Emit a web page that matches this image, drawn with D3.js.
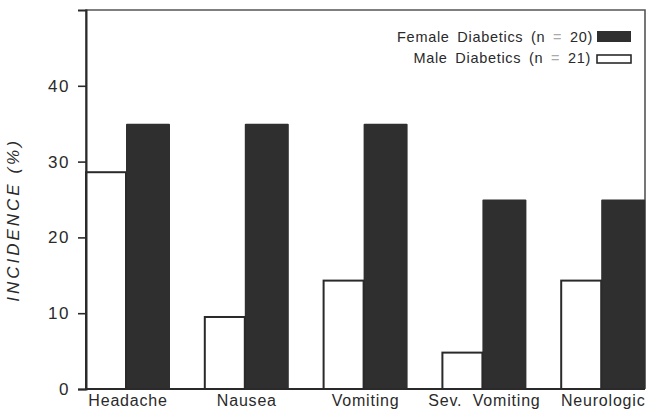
<!DOCTYPE html>
<html><head><meta charset="utf-8">
<script src="https://cdn.jsdelivr.net/npm/d3@7"></script>
<style>
html,body{margin:0;padding:0;background:#fff;}
svg{display:block;}
text{font-family:"Liberation Sans",Arial,Helvetica,sans-serif;fill:#2a2a2a;}
</style></head>
<body>
<svg id="chart" width="646" height="410"></svg>
<script>
const categories = ["Headache", "Nausea", "Vomiting", "Sev.  Vomiting", "Neurologic"];
const femaleValues = [35, 35, 35, 25, 25];
const maleValues = [28.6, 9.5, 14.3, 4.8, 14.3];
const yTickValues = [0, 10, 20, 30, 40];
const seriesKeys = ["male", "female"];
const legendLabels = [["Female Diabetics (n", "=", "20)"], ["Male Diabetics (n", "=", "21)"]];
const yTitle = "INCIDENCE (%)";

const svg = d3.select("#chart");
const ink = "#2a2a2a";
const mLeft = 86, mRight = 645, mTop = 10, mBottom = 389;

const y = d3.scaleLinear().domain([0, 50]).range([mBottom, mTop]);
const x0 = d3.scaleBand().domain(categories).range([mLeft, mLeft + 5 * 118.8]).padding(0);
const x1 = d3.scaleBand().domain(seriesKeys).range([0, 84]).padding(0);

// frame
svg.append("path")
  .attr("d", `M${mLeft},${mBottom}V${mTop}H${mRight}V${mBottom}`)
  .attr("fill", "none").attr("stroke", "#555").attr("stroke-width", 1.6);

// bars
const data = categories.map((c, i) => ({c, male: maleValues[i], female: femaleValues[i]}));
const g = svg.append("g");
g.selectAll("rect.f").data(data).join("rect").attr("class", "f")
  .attr("x", d => x0(d.c) + x1("female") - 2)
  .attr("width", x1.bandwidth() + 2)
  .attr("y", d => y(d.female))
  .attr("height", d => y(0) - y(d.female))
  .attr("fill", "#2f2f2f").attr("rx", 1);
g.selectAll("rect.m").data(data).join("rect").attr("class", "m")
  .attr("x", d => x0(d.c) + x1("male"))
  .attr("width", x1.bandwidth() - 2)
  .attr("y", d => y(d.male))
  .attr("height", d => y(0) - y(d.male))
  .attr("fill", "#fff").attr("stroke", ink).attr("stroke-width", 2);

// x baseline
svg.append("line").attr("x1", mLeft).attr("x2", mRight).attr("y1", mBottom).attr("y2", mBottom)
  .attr("stroke", ink).attr("stroke-width", 2);

// y axis
const yAxis = d3.axisLeft(y).tickValues(yTickValues).tickSize(8).tickPadding(8).tickFormat(d3.format("d"));
const ya = svg.append("g").attr("transform", `translate(${mLeft},0)`).call(yAxis);
ya.select(".domain").attr("stroke", ink).attr("stroke-width", 2);
ya.selectAll(".tick line").attr("stroke", ink).attr("stroke-width", 1.6);
ya.selectAll(".tick text").attr("font-size", 17).attr("letter-spacing", 1.5)
  .attr("font-family", "Liberation Sans, Arial, sans-serif").attr("fill", ink);

// x labels
const xAxis = d3.axisBottom(x0).tickSize(0).tickPadding(6);
const xa = svg.append("g").attr("transform", `translate(0,${mBottom})`).call(xAxis);
xa.select(".domain").remove();
xa.selectAll(".tick").attr("transform", d => `translate(${x0(d) + 42},0)`);
xa.selectAll(".tick text").attr("font-size", 16).attr("letter-spacing", 0.8)
  .attr("font-family", "Liberation Sans, Arial, sans-serif").attr("fill", ink)
  .style("white-space", "pre");

// y title
svg.append("text")
  .attr("transform", "translate(19,220) rotate(-90)")
  .attr("text-anchor", "middle")
  .attr("font-size", 17).attr("font-style", "italic").attr("letter-spacing", 3)
  .text(yTitle);

// legend
const legend = svg.append("g");
const lg = legend.selectAll("g").data(legendLabels).join("g")
  .attr("transform", (d, i) => `translate(0,${[42, 63][i]})`);
const lt = lg.append("text").attr("x", (d, i) => [593, 591][i]).attr("text-anchor", "end")
  .attr("font-size", 14.5).attr("letter-spacing", 0.7).attr("word-spacing", 3);
lt.append("tspan").text(d => d[0] + " ");
lt.append("tspan").attr("fill", "#aaa").text(d => d[1]);
lt.append("tspan").text(d => " " + d[2]);
lg.append("rect")
  .attr("x", 597).attr("width", 34)
  .attr("y", (d, i) => i === 0 ? -11 : -8).attr("height", (d, i) => i === 0 ? 11 : 8)
  .attr("fill", (d, i) => i === 0 ? "#2f2f2f" : "#fff")
  .attr("stroke", ink).attr("stroke-width", (d, i) => i === 0 ? 0 : 1.6);
</script>
</body></html>
